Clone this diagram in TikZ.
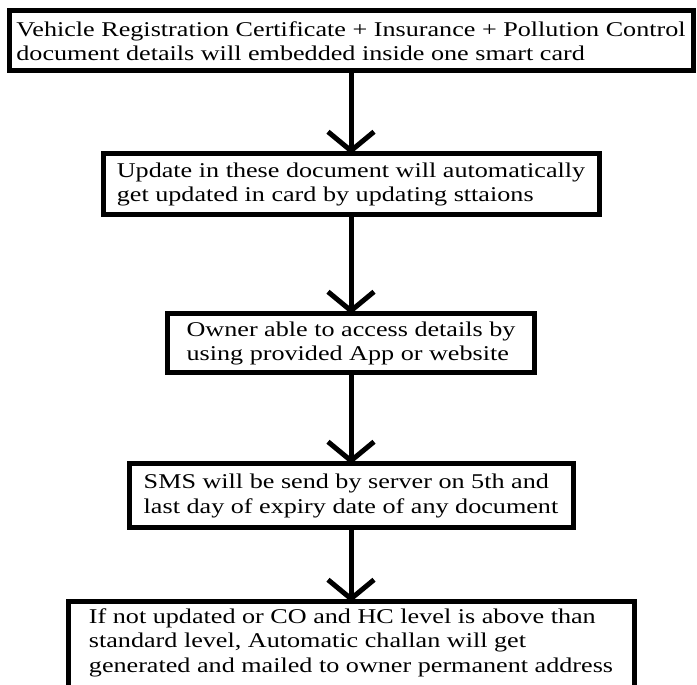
\documentclass[tikz,border=0pt]{standalone}
\usepackage{fontspec}
\setmainfont[FakeStretch=1.245]{Liberation Serif}
\usetikzlibrary{arrows.meta}
\begin{document}
\begin{tikzpicture}[x=1pt,y=1pt,
  box/.style={draw, line width=5pt, outer sep=0pt, align=left, inner xsep=6pt,
    font=\fontsize{21}{24.5}\selectfont, fill=white},
  openbox/.style={draw=none, outer sep=0pt, align=left, inner xsep=6pt,
    font=\fontsize{21}{24.5}\selectfont},
  flow/.style={line width=5pt, -{Straight Barb[length=19pt,width=46pt]}},
  edge/.style={line width=5pt}]
\useasboundingbox (0,0) rectangle (697,685);
\clip (0,0) rectangle (697,685);
\fill[white] (0,0) rectangle (697,685);

\node[box, minimum width=684pt, minimum height=60pt] (b1) at (351,644)
  {Vehicle Registration Certificate + Insurance + Pollution Control\\document details will embedded inside one smart card};
\node[box, minimum width=496pt, minimum height=61pt] (b2) at (351,500.5)
  {Update in these document will automatically\\get updated in card by updating sttaions};
\node[box, minimum width=367pt, minimum height=59pt] (b3) at (351,341.5)
  {Owner able to access details by\\using provided App or website};
\node[box, minimum width=444pt, minimum height=64pt] (b4) at (351,189)
  {SMS will be send by server on 5th and\\last day of expiry date of any document};
\node[openbox, minimum width=566pt, minimum height=81pt] (b5) at (351,42.5)
  {If not updated or CO and HC level is above than\\standard level, Automatic challan will get\\generated and mailed to owner permanent address};
\draw[edge] ([yshift=-30pt]b5.south west) -- (b5.north west) -- (b5.north east) -- ([yshift=-30pt]b5.south east);

\draw[flow] (b1.south) -- (b2.north);
\draw[flow] (b2.south) -- (b3.north);
\draw[flow] (b3.south) -- (b4.north);
\draw[flow] (b4.south) -- (b5.north);
\end{tikzpicture}
\end{document}
